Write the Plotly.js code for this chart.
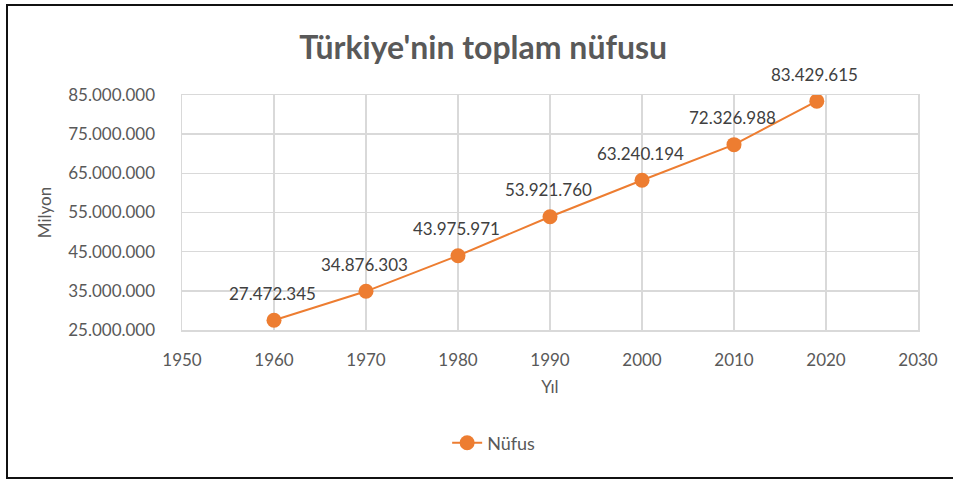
<!DOCTYPE html>
<html>
<head>
<meta charset="utf-8">
<script src="https://cdn.plot.ly/plotly-3.0.1.min.js"></script>
<style>
html,body{margin:0;padding:0;background:#fff;}
#wrap{position:relative;width:953px;height:480px;overflow:hidden;}
#chart{width:953px;height:480px;}
#frame{position:absolute;left:6px;top:4px;width:960px;height:471px;border:2px solid #111;pointer-events:none;}
</style>
</head>
<body>
<div id="wrap"><div id="chart"></div><div id="frame"></div></div>
<script>
const years = [1960, 1970, 1980, 1990, 2000, 2010, 2019];
const population = [27472345, 34876303, 43975971, 53921760, 63240194, 72326988, 83429615];
const seriesName = 'Nüfus';
const chartTitle = "Türkiye'nin toplam nüfusu";
const xTitle = 'Yıl';
const yTitle = 'Milyon';

const FONT = 'Lato, "Liberation Sans", sans-serif';
const fmt = v => v.toString().replace(/\B(?=(\d{3})+(?!\d))/g, '.');

const trace = {
  x: years, y: population, name: seriesName,
  type: 'scatter', mode: 'lines+markers',
  line: {color: '#ED7D31', width: 2},
  marker: {color: '#ED7D31', size: 15},
  hoverinfo: 'skip'
};

const annotations = years.map((yr, i) => ({
  x: yr, y: population[i], xref: 'x', yref: 'y',
  text: fmt(population[i]), showarrow: false,
  yshift: 27, xshift: -2,
  font: {family: FONT, size: 17, color: '#404040'}
}));

const layout = {
  width: 953, height: 480,
  margin: {l: 182, r: 35, t: 95, b: 150},
  paper_bgcolor: '#fff', plot_bgcolor: '#fff',
  separators: ',.',
  font: {family: FONT, color: '#595959', size: 15},
  title: {text: '<b>' + chartTitle + '</b>', x: 0.507, xanchor: 'center', y: 0.9, yanchor: 'middle',
          xref: 'container', yref: 'container',
          font: {family: FONT, size: 32, color: '#595959'}},
  xaxis: {
    range: [1950, 2030], dtick: 10, tick0: 1950,
    showgrid: true, gridcolor: '#d9d9d9', gridwidth: 1.5,
    showline: true, linecolor: '#d9d9d9', linewidth: 1.5, mirror: true,
    zeroline: false, ticks: '', ticklabelstandoff: 14,
    tickfont: {family: FONT, size: 17, color: '#595959'},
    title: {text: xTitle, standoff: 12, font: {family: FONT, size: 17, color: '#595959'}}
  },
  yaxis: {
    range: [25000000, 85000000], dtick: 10000000, tick0: 25000000,
    tickformat: ',d',
    showgrid: true, gridcolor: '#d9d9d9', gridwidth: 1.5,
    showline: true, linecolor: '#d9d9d9', linewidth: 1.5, mirror: true,
    zeroline: false, ticks: '', ticklabelstandoff: 22,
    tickfont: {family: FONT, size: 17, color: '#595959'},
    title: {text: yTitle, standoff: 12, font: {family: FONT, size: 17, color: '#595959'}}
  },
  showlegend: true,
  legend: {orientation: 'h', x: 0.518, xanchor: 'center', xref: 'container',
           y: 0.077, yanchor: 'middle', yref: 'container',
           font: {family: FONT, size: 18, color: '#595959'}},
  annotations: annotations
};

Plotly.newPlot('chart', [trace], layout, {displayModeBar: false, staticPlot: true});
</script>
</body>
</html>
